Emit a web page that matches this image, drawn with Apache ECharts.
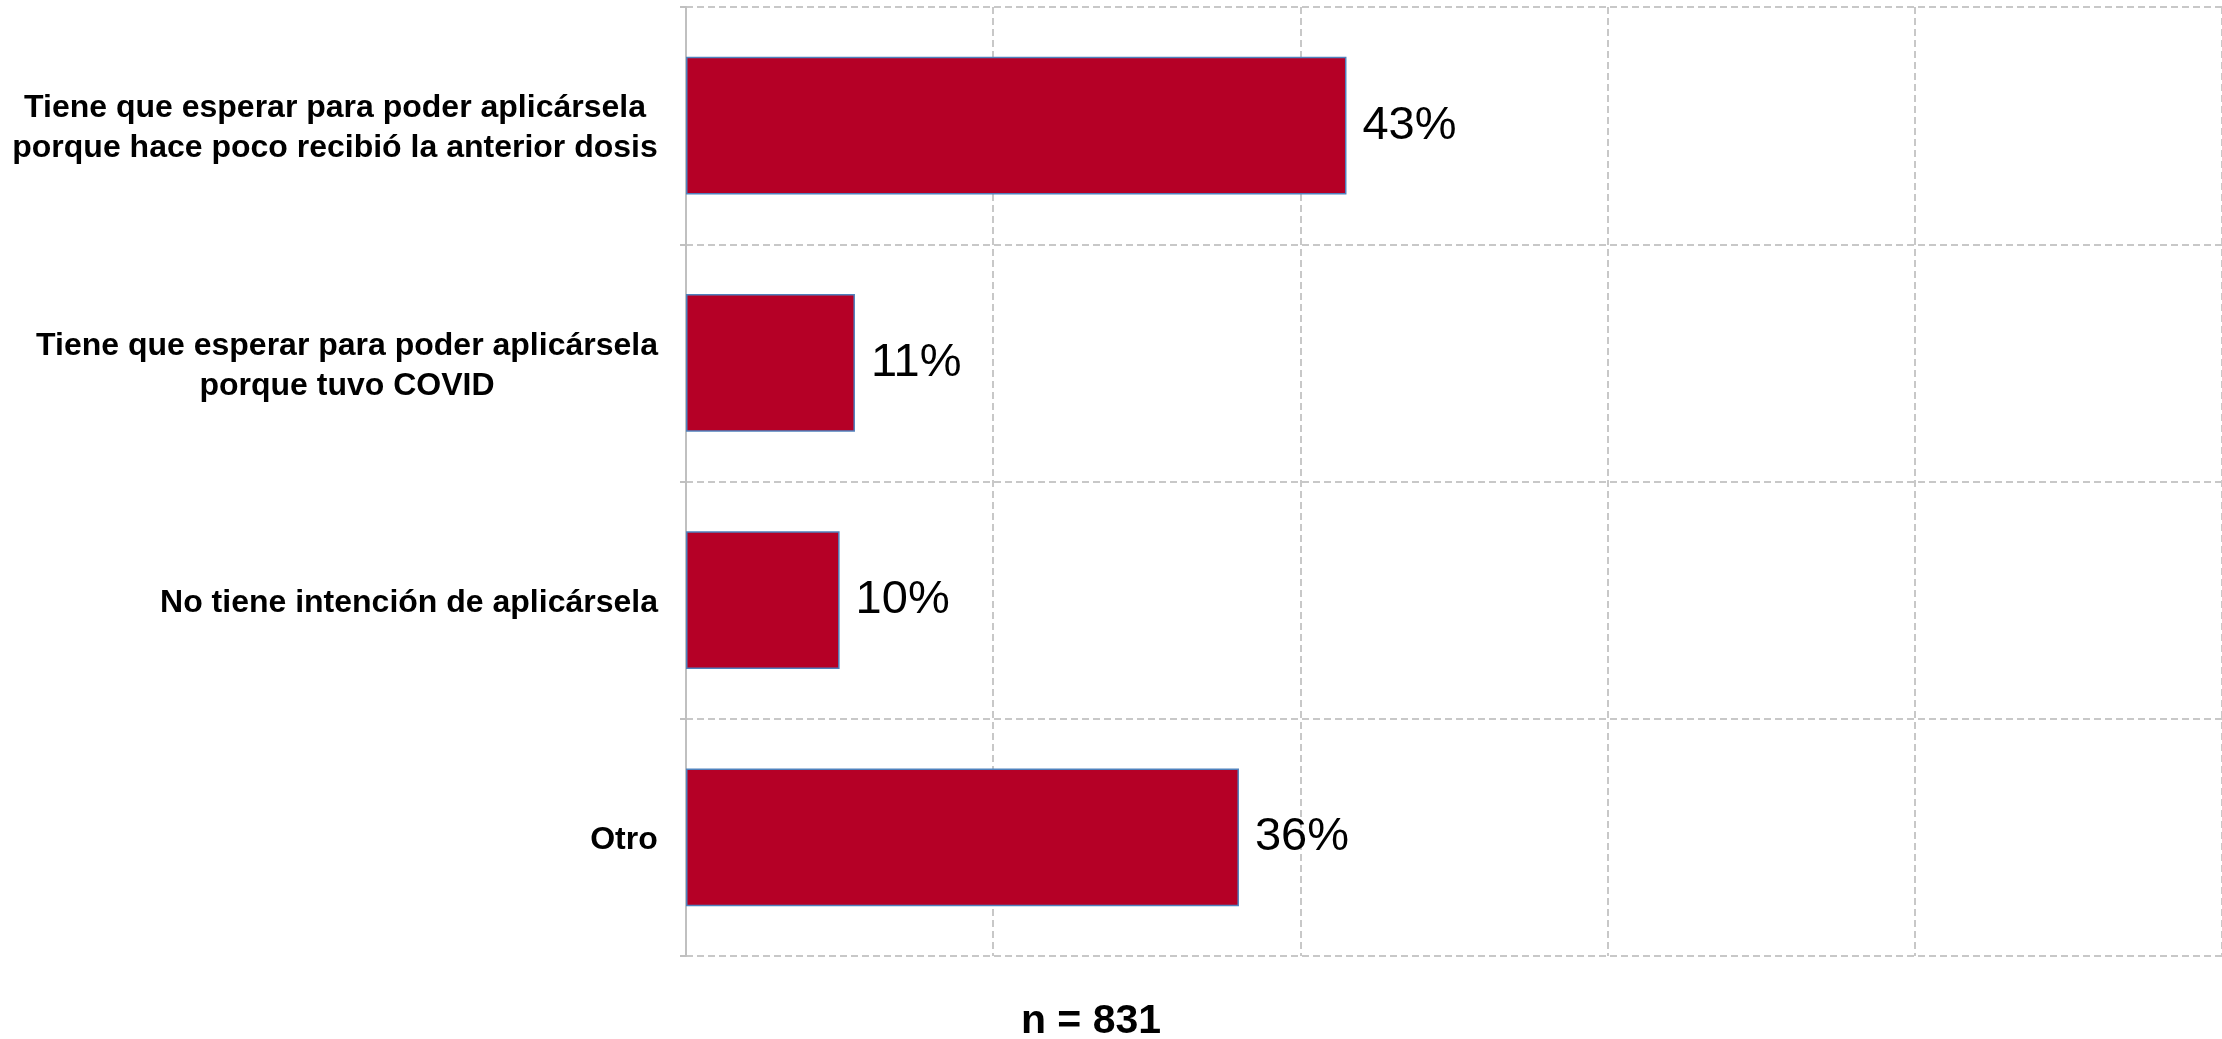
<!DOCTYPE html>
<html>
<head>
<meta charset="utf-8">
<script src="https://cdn.jsdelivr.net/npm/echarts@6/dist/echarts.min.js"></script>
<style>
html,body{margin:0;padding:0;background:#fff;}
#chart{width:2222px;height:1039px;}
</style>
</head>
<body>
<div id="chart"></div>
<script>
const categories = [
  "Tiene que esperar para poder aplicársela\nporque hace poco recibió la anterior dosis",
  "Tiene que esperar para poder aplicársela\nporque tuvo COVID",
  "No tiene intención de aplicársela",
  "Otro"
];
const values = [43, 11, 10, 36];
const footnote = "n = 831";
const xTicks = [0, 20, 40, 60, 80, 100];

const labelFont = 'bold 32px "Liberation Sans", Arial, sans-serif';
const ctx = document.createElement('canvas').getContext('2d');
ctx.font = labelFont;
const rich = {};
categories.forEach((c, i) => {
  const w = Math.max(...c.split('\n').map(l => ctx.measureText(l).width));
  rich['l' + i] = {
    width: Math.ceil(w), align: 'center',
    fontFamily: '"Liberation Sans", Arial, sans-serif',
    fontWeight: 'bold', fontSize: 32, lineHeight: 40, color: '#000',
    padding: [6, 0, 0, 0]
  };
});

const chart = echarts.init(document.getElementById('chart'));
chart.setOption({
  animation: false,
  backgroundColor: '#fff',
  grid: { left: 686, right: 0, top: 7, bottom: 83, containLabel: false },
  xAxis: {
    type: 'value', min: xTicks[0], max: xTicks[xTicks.length - 1], interval: xTicks[1] - xTicks[0],
    axisLabel: { show: false }, axisLine: { show: false }, axisTick: { show: false },
    splitLine: { show: true, lineStyle: { color: '#c8c8c8', width: 2, type: [7, 4] } }
  },
  yAxis: {
    type: 'category', inverse: true, data: categories,
    axisLine: { show: true, lineStyle: { color: '#c0c0c0', width: 2 } },
    axisTick: { show: true, length: 6, lineStyle: { color: '#c0c0c0', width: 2 } },
    splitLine: { show: true, lineStyle: { color: '#c8c8c8', width: 2, type: [7, 4] } },
    axisLabel: {
      margin: 28,
      formatter: (v, i) => v.split('\n').map(l => '{l' + i + '|' + l + '}').join('\n'),
      rich: rich
    }
  },
  series: [{
    type: 'bar', data: values, barWidth: '58%',
    itemStyle: { color: '#B50026', borderColor: '#4F81BD', borderWidth: 1.5 },
    label: {
      show: true, position: 'right', distance: 16, formatter: '{c}%',
      fontFamily: '"Liberation Sans", Arial, sans-serif', fontSize: 47, color: '#000',
      padding: [14, 0, 0, 0]
    }
  }],
  graphic: [{
    type: 'text', x: 1091, y: 1022,
    style: {
      text: footnote, textAlign: 'center', textVerticalAlign: 'middle',
      font: 'bold 41px "Liberation Sans", Arial, sans-serif', fill: '#000'
    }
  }]
});
</script>
</body>
</html>
